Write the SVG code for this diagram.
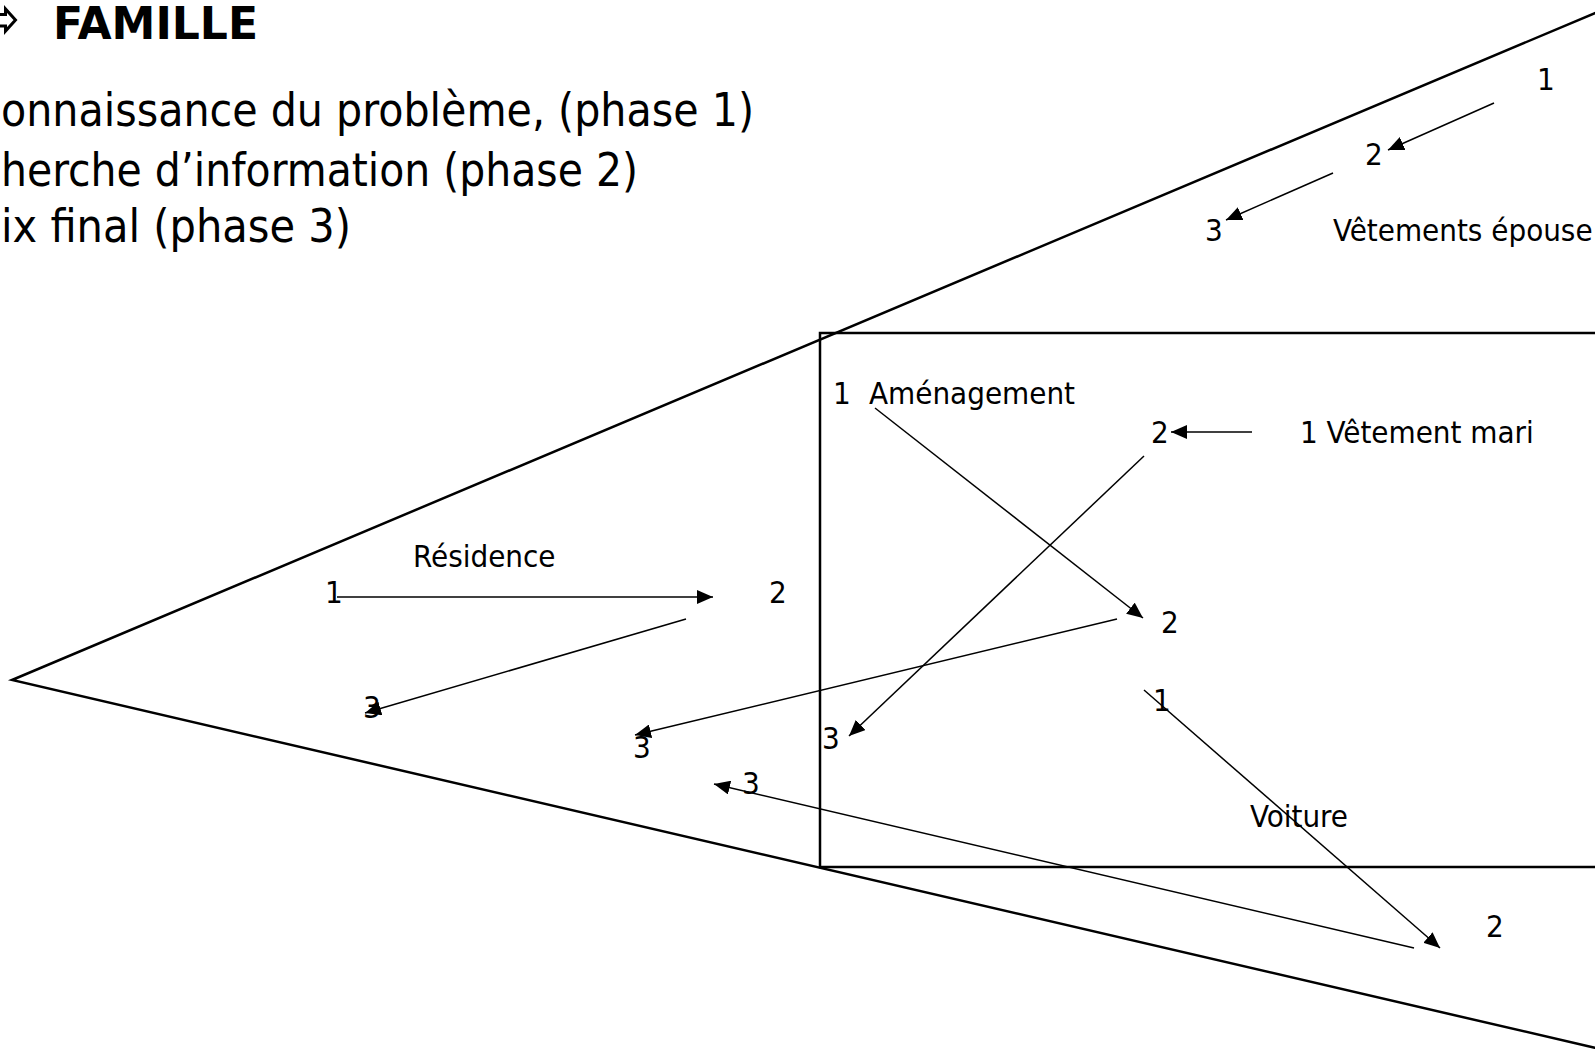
<svg xmlns="http://www.w3.org/2000/svg" width="1595" height="1049" viewBox="0 0 1595 1049">
  <style>
    text { font-family: "DejaVu Sans Condensed", "DejaVu Sans", sans-serif; font-stretch: condensed; fill: #000; }
    .head { font-size: 47px; }
    .title { font-size: 45px; font-weight: bold; }
    .lbl { font-size: 31px; }
    .frame { fill: none; stroke: #000; stroke-width: 2.5; }
    .arrow { fill: none; stroke: #000; stroke-width: 1.5; marker-end: url(#head); }
  </style>
  <defs>
    <marker id="head" markerUnits="userSpaceOnUse" markerWidth="16" markerHeight="14" refX="16" refY="7" orient="auto">
      <path d="M0,0 L16,7 L0,14 z" fill="#000"/>
    </marker>
  </defs>
  <rect width="1595" height="1049" fill="#fff"/>

  <!-- heading and phase list -->
  <g id="heading">
    <!-- hollow bullet arrow, running in from the left edge -->
    <polygon points="-20,14.5 5.5,14.5 5.5,9 15.5,20 5.5,31 5.5,26 -20,26" fill="#fff" stroke="#000" stroke-width="3" stroke-linejoin="miter"/>
    <text class="title" x="53" y="39" textLength="205" lengthAdjust="spacingAndGlyphs">FAMILLE</text>
    <text class="head" x="1" y="126" textLength="753" lengthAdjust="spacingAndGlyphs">onnaissance du problème, (phase 1)</text>
    <text class="head" x="1" y="186" textLength="637" lengthAdjust="spacingAndGlyphs">herche d’information (phase 2)</text>
    <text class="head" x="1" y="242" textLength="350" lengthAdjust="spacingAndGlyphs">ix final (phase 3)</text>
  </g>

  <!-- funnel and inner box -->
  <g id="funnel">
    <path class="frame" d="M1600,11 L12,680 L1600,1049"/>
  </g>
  <g id="box">
    <rect class="frame" x="820" y="333" width="800" height="534"/>
  </g>

  <!-- wife's clothing -->
  <g id="vetements-epouse">
    <text class="lbl" x="1537" y="90">1</text>
    <text class="lbl" x="1365" y="165">2</text>
    <text class="lbl" x="1205" y="241">3</text>
    <text class="lbl" x="1333" y="241">Vêtements épouse</text>
  </g>

  <!-- furnishing -->
  <g id="amenagement">
    <text class="lbl" x="833" y="404">1</text>
    <text class="lbl" x="869" y="404">Aménagement</text>
    <text class="lbl" x="1161" y="633">2</text>
    <text class="lbl" x="633" y="758">3</text>
  </g>

  <!-- husband's clothing -->
  <g id="vetement-mari">
    <text class="lbl" x="1300" y="443">1 Vêtement mari</text>
    <text class="lbl" x="1151" y="443">2</text>
    <text class="lbl" x="822" y="749">3</text>
  </g>

  <!-- residence -->
  <g id="residence">
    <text class="lbl" x="413" y="567">Résidence</text>
    <text class="lbl" x="325" y="603">1</text>
    <text class="lbl" x="769" y="603">2</text>
    <text class="lbl" x="363" y="718">3</text>
  </g>

  <!-- car -->
  <g id="voiture">
    <text class="lbl" x="1153" y="711">1</text>
    <text class="lbl" x="1250" y="827">Voiture</text>
    <text class="lbl" x="1486" y="937">2</text>
    <text class="lbl" x="742" y="794">3</text>
  </g>

  <!-- phase transitions -->
  <g id="connectors">
    <line class="arrow" x1="1494" y1="103" x2="1388" y2="150"/>
    <line class="arrow" x1="1333" y1="173" x2="1226" y2="220"/>
    <line class="arrow" x1="875" y1="408" x2="1143" y2="618"/>
    <line class="arrow" x1="1252" y1="432" x2="1171" y2="432"/>
    <line class="arrow" x1="1144" y1="456" x2="849" y2="736"/>
    <line class="arrow" x1="1117" y1="619" x2="635" y2="735"/>
    <line class="arrow" x1="337" y1="597" x2="713" y2="597"/>
    <line class="arrow" x1="686" y1="619" x2="365" y2="713"/>
    <line class="arrow" x1="1414" y1="948" x2="714" y2="784"/>
    <line class="arrow" x1="1144" y1="690" x2="1440" y2="948"/>
  </g>
</svg>
